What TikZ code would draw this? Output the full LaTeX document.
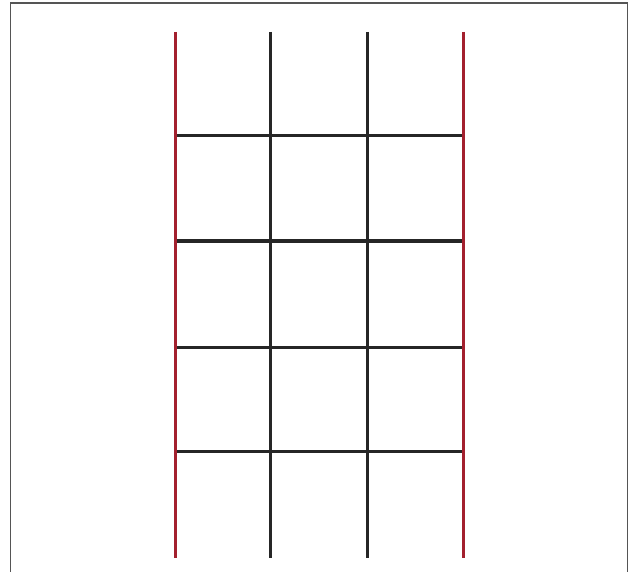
\documentclass[tikz,border=0pt]{standalone}
\definecolor{ladderred}{HTML}{A3202E}
\definecolor{framegray}{HTML}{555555}
\tikzset{
  rail/.style={draw=ladderred, line width=3pt},
  rung/.style={draw=black!85, line width=3pt},
  framel/.style={draw=framegray, line width=1.2pt}
}
\begin{document}
\begin{tikzpicture}[x=1pt,y=1pt]
\useasboundingbox (0,0) rectangle (631,571);
\fill[white] (0,0) rectangle (631,571);
% frame (bottom open)
\draw[framel] (10.5,-2) -- (10.5,568) -- (627.5,568) -- (627.5,-2);
% coordinates
\foreach \n/\x in {a/175,b/270,c/367,d/463}{
  \coordinate (\n top) at (\x,539);
  \coordinate (\n bot) at (\x,13);
}
% horizontal rungs
\foreach \y in {435,330,224,120}{
  \draw[rung] (175,\y) -- (463,\y);
}
% inner verticals
\draw[rung] (btop) -- (bbot);
\draw[rung] (ctop) -- (cbot);
% red rails
\draw[rail] (atop) -- (abot);
\draw[rail] (dtop) -- (dbot);
\end{tikzpicture}
\end{document}
